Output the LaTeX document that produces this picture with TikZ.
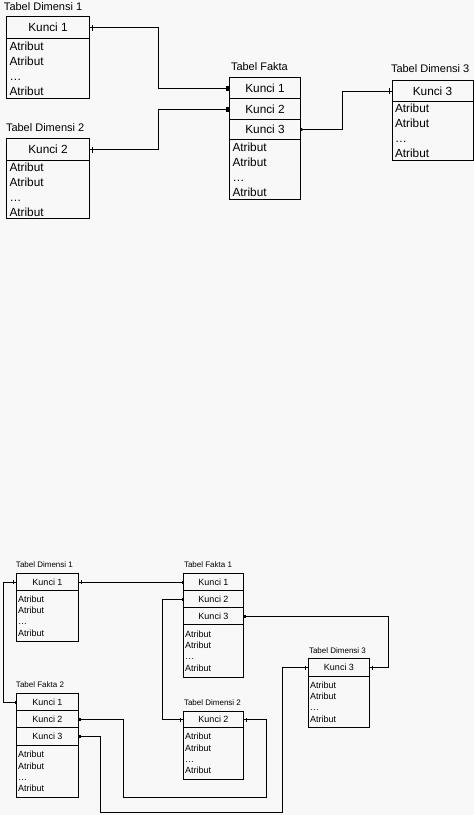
\documentclass[tikz,border=0pt]{standalone}
\usepackage{fontspec}
\setmainfont{Liberation Sans}
\usetikzlibrary{arrows.meta,decorations.markings}
\definecolor{tableink}{HTML}{000000}
\definecolor{tablepaper}{HTML}{F8F8F8}

\begin{document}
\begin{tikzpicture}[
  x=1pt,
  y=-1pt,
  line width=1pt,
  every node/.style={font=\fontsize{11.8}{15}\selectfont, text=tableink},
  small/.style={font=\fontsize{9}{11.3}\selectfont},
  caption/.style={anchor=west, inner sep=0pt, font=\fontsize{11}{13}\selectfont},
  smallcaption/.style={anchor=west, inner sep=0pt, font=\fontsize{8}{10}\selectfont},
  keybox/.style={draw=tableink, inner sep=0pt, outer sep=0pt},
  attrbox/.style={draw=tableink, anchor=north, align=left, inner xsep=3pt, inner ysep=0pt, outer sep=0pt},
  link/.style={draw=tableink},
  tickstart/.style={postaction={decorate, decoration={markings,
    mark=at position 3pt with {\draw[tableink, -] (0,-#1) -- (0,#1);}}}},
  tickstart/.default=3pt,
  tickend/.style={postaction={decorate, decoration={markings,
    mark=at position -3pt with {\draw[tableink, -] (0,-#1) -- (0,#1);}}}},
  tickend/.default=3pt
]
  \fill[tablepaper] (0,0) rectangle (474,815);
  \useasboundingbox (0,0) rectangle (474,815);

  \begin{scope}[shift={(0.5,0.5)}]
  % star schema, one fact table
  \node[caption] (td1) at (3,6) {Tabel Dimensi 1};
  \node[keybox, minimum width=83pt, minimum height=22pt] (kd1) at (47.5,27) {Kunci 1};
  \node[attrbox, text width=77pt, minimum height=60pt] (ad1) at (kd1.south) {Atribut\\Atribut\\\ldots\\Atribut};

  \node[caption] (td2) at (5,127) {Tabel Dimensi 2};
  \node[keybox, minimum width=83pt, minimum height=22pt] (kd2) at (47.5,149) {Kunci 2};
  \node[attrbox, text width=77pt, minimum height=58pt] (ad2) at (kd2.south) {Atribut\\Atribut\\\ldots\\Atribut};

  \node[caption] (tf) at (230,66) {Tabel Fakta};
  \node[keybox, minimum width=71pt, minimum height=21pt] (kf1) at (264.5,87.5) {Kunci 1};
  \node[keybox, minimum width=71pt, minimum height=21pt, anchor=north] (kf2) at (kf1.south) {Kunci 2};
  \node[keybox, minimum width=71pt, minimum height=20pt, anchor=north] (kf3) at (kf2.south) {Kunci 3};
  \node[attrbox, text width=65pt, minimum height=60pt] (af) at (kf3.south) {Atribut\\Atribut\\\ldots\\Atribut};

  \node[caption] (td3) at (390,68) {Tabel Dimensi 3};
  \node[keybox, minimum width=81pt, minimum height=21pt] (kd3) at (432,90.5) {Kunci 3};
  \node[attrbox, text width=75pt, minimum height=59pt] (ad3) at (kd3.south) {Atribut\\Atribut\\\ldots\\Atribut};

  \draw[link, tickstart, -{Square[length=4pt,width=5pt]}] (kd1.east) -- ++(69,0) |- (kf1.west);
  \draw[link, tickstart, -{Square[length=4pt,width=5pt]}] (kd2.east) -- ++(69,0) |- (kf2.west);
  \draw[link, {Stealth[reversed,length=3pt,width=4pt]}-, tickend] (kf3.east) -- ++(42,0) |- (kd3.west);

  % two fact tables
  \node[smallcaption] (sd1) at (15,564) {Tabel Dimensi 1};
  \node[keybox, small, minimum width=62pt, minimum height=17pt] (kd1b) at (47,581.5) {Kunci 1};
  \node[attrbox, small, inner xsep=1.5pt, text width=59pt, minimum height=51pt] (ad1b) at (kd1b.south) {Atribut\\Atribut\\\ldots\\Atribut};

  \node[smallcaption] (sf1) at (183,564) {Tabel Fakta 1};
  \node[keybox, small, minimum width=60pt, minimum height=17pt] (kf1b1) at (213,581.5) {Kunci 1};
  \node[keybox, small, minimum width=60pt, minimum height=17pt, anchor=north] (kf1b2) at (kf1b1.south) {Kunci 2};
  \node[keybox, small, minimum width=60pt, minimum height=17pt, anchor=north] (kf1b3) at (kf1b2.south) {Kunci 3};
  \node[attrbox, small, inner xsep=1.5pt, text width=57pt, minimum height=53pt] (af1b) at (kf1b3.south) {Atribut\\Atribut\\\ldots\\Atribut};

  \node[smallcaption] (sf2) at (15,684) {Tabel Fakta 2};
  \node[keybox, small, minimum width=62pt, minimum height=17pt] (kf2b1) at (47,701.5) {Kunci 1};
  \node[keybox, small, minimum width=62pt, minimum height=17pt, anchor=north] (kf2b2) at (kf2b1.south) {Kunci 2};
  \node[keybox, small, minimum width=62pt, minimum height=18pt, anchor=north] (kf2b3) at (kf2b2.south) {Kunci 3};
  \node[attrbox, small, inner xsep=1.5pt, text width=59pt, minimum height=52pt] (af2b) at (kf2b3.south) {Atribut\\Atribut\\\ldots\\Atribut};

  \node[smallcaption] (sd2) at (183,702) {Tabel Dimensi 2};
  \node[keybox, small, minimum width=60pt, minimum height=16pt] (kd2b) at (213,719) {Kunci 2};
  \node[attrbox, small, inner xsep=1.5pt, text width=57pt, minimum height=52pt] (ad2b) at (kd2b.south) {Atribut\\Atribut\\\ldots\\Atribut};

  \node[smallcaption] (sd3) at (308,650) {Tabel Dimensi 3};
  \node[keybox, small, minimum width=61pt, minimum height=18pt] (kd3b) at (338.5,667) {Kunci 3};
  \node[attrbox, small, inner xsep=1.5pt, text width=58pt, minimum height=51pt] (ad3b) at (kd3b.south) {Atribut\\Atribut\\\ldots\\Atribut};

  \draw[link, tickstart=2pt, -{Square[length=2pt,width=3pt]}] (kd1b.east) -- (kf1b1.west);
  \draw[link, tickstart=2pt, -{Square[length=2pt,width=3pt]}] (kd1b.west) -- ++(-13,0) |- (kf2b1.west);
  \draw[link, {Square[length=2pt,width=3pt]}-, tickend=2pt] (kf1b2.west) -- ++(-21,0) |- (kd2b.west);
  \draw[link, {Square[length=2pt,width=3pt]}-, tickend=2pt] (kf1b3.east) -- ++(145,0) |- (kd3b.east);
  \draw[link, tickstart=2pt, -{Square[length=2pt,width=3pt]}] (kd2b.east) -- ++(23,0) -- ++(0,78) -| ([xshift=45pt]kf2b2.east) -- (kf2b2.east);
  \draw[link, {Square[length=2pt,width=3pt]}-, tickend=2pt] (kf2b3.east) -- ++(22,0) -- ++(0,76) -| ([xshift=-26pt]kd3b.west) -- (kd3b.west);
  \end{scope}
\end{tikzpicture}
\end{document}
